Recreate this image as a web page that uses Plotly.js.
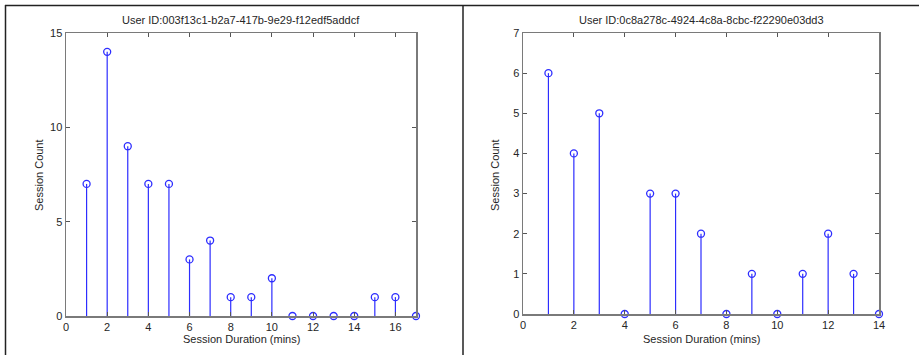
<!DOCTYPE html>
<html>
<head>
<meta charset="utf-8">
<script src="https://cdn.plot.ly/plotly-3.0.1.min.js"></script>
<style>html,body{margin:0;padding:0;background:#fff;}#chart{width:919px;height:355px;}</style>
</head>
<body>
<div id="chart"></div>
<script>
// ---- data ----
const leftTitle = "User ID:003f13c1-b2a7-417b-9e29-f12edf5addcf";
const leftDurations = [1,2,3,4,5,6,7,8,9,10,11,12,13,14,15,16,17];
const leftCounts    = [7,14,9,7,7,3,4,1,1,2,0,0,0,0,1,1,0];
const leftXTicks = [0,2,4,6,8,10,12,14,16];
const leftYTicks = [0,5,10,15];

const rightTitle = "User ID:0c8a278c-4924-4c8a-8cbc-f22290e03dd3";
const rightDurations = [1,2,3,4,5,6,7,8,9,10,11,12,13,14];
const rightCounts    = [6,4,5,0,3,3,2,0,1,0,1,2,1,0];
const rightXTicks = [0,2,4,6,8,10,12,14];
const rightYTicks = [0,1,2,3,4,5,6,7];

const xLabel = "Session Duration (mins)";
const yLabel = "Session Count";

// ---- styling ----
const W = 919, H = 355;
const stemColor = 'rgb(45,45,255)';
const font = {family: 'Liberation Sans, Arial, sans-serif', size: 11, color: '#262626'};
const px = v => v / W;
const py = v => 1 - v / H;

function stem(x, y, xa, ya) {
  return {
    type: 'scatter', mode: 'markers', x: x, y: y, xaxis: xa, yaxis: ya,
    cliponaxis: false, hoverinfo: 'x+y',
    marker: {symbol: 'circle-open', size: 7, color: stemColor, line: {width: 1.3, color: stemColor}},
    error_y: {type: 'data', symmetric: false, array: y.map(() => 0), arrayminus: y,
              color: stemColor, thickness: 1.2, width: 0}
  };
}

function axis(domain, range, ticks, anchor) {
  return {
    domain: domain, range: range, anchor: anchor,
    tickmode: 'array', tickvals: ticks, ticktext: ticks.map(String),
    ticks: 'inside', ticklen: 4, tickwidth: 1, tickcolor: '#555',
    showline: true, linecolor: '#7a7a7a', linewidth: 1.5, mirror: 'ticks',
    showgrid: false, zeroline: false, tickfont: font, fixedrange: true
  };
}

const data = [
  stem(leftDurations, leftCounts, 'x', 'y'),
  stem(rightDurations, rightCounts, 'x2', 'y2')
];

const layout = {
  width: W, height: H, margin: {l: 0, r: 0, t: 0, b: 0},
  paper_bgcolor: '#fff', plot_bgcolor: '#fff', showlegend: false, font: font,
  xaxis: axis([px(66), px(416)], [0, 17], leftXTicks, 'y'),
  yaxis: axis([py(316), py(33)], [0, 15], leftYTicks, 'x'),
  xaxis2: axis([px(523), px(879)], [0, 14], rightXTicks, 'y2'),
  yaxis2: axis([py(314), py(33)], [0, 7], rightYTicks, 'x2'),
  annotations: [
    {text: leftTitle, xref: 'paper', yref: 'paper', x: px(241), y: py(20), showarrow: false, font: font, xanchor: 'center', yanchor: 'middle'},
    {text: rightTitle, xref: 'paper', yref: 'paper', x: px(701), y: py(20), showarrow: false, font: font, xanchor: 'center', yanchor: 'middle'},
    {text: xLabel, xref: 'paper', yref: 'paper', x: px(241), y: py(339), showarrow: false, font: font, xanchor: 'center', yanchor: 'middle'},
    {text: xLabel, xref: 'paper', yref: 'paper', x: px(701), y: py(339), showarrow: false, font: font, xanchor: 'center', yanchor: 'middle'},
    {text: yLabel, xref: 'paper', yref: 'paper', x: px(39), y: py(175), showarrow: false, font: font, textangle: -90, xanchor: 'center', yanchor: 'middle'},
    {text: yLabel, xref: 'paper', yref: 'paper', x: px(495), y: py(175), showarrow: false, font: font, textangle: -90, xanchor: 'center', yanchor: 'middle'}
  ],
  shapes: [
    {type: 'line', xref: 'paper', yref: 'paper', x0: px(5), x1: 1, y0: py(5.5), y1: py(5.5), line: {color: '#222', width: 1.5}},
    {type: 'line', xref: 'paper', yref: 'paper', x0: px(5.5), x1: px(5.5), y0: py(5), y1: 0, line: {color: '#222', width: 1.5}},
    {type: 'line', xref: 'paper', yref: 'paper', x0: px(463), x1: px(463), y0: py(5), y1: 0, line: {color: '#222', width: 1.5}}
  ]
};

Plotly.newPlot('chart', data, layout, {displayModeBar: false, staticPlot: true});
</script>
</body>
</html>
